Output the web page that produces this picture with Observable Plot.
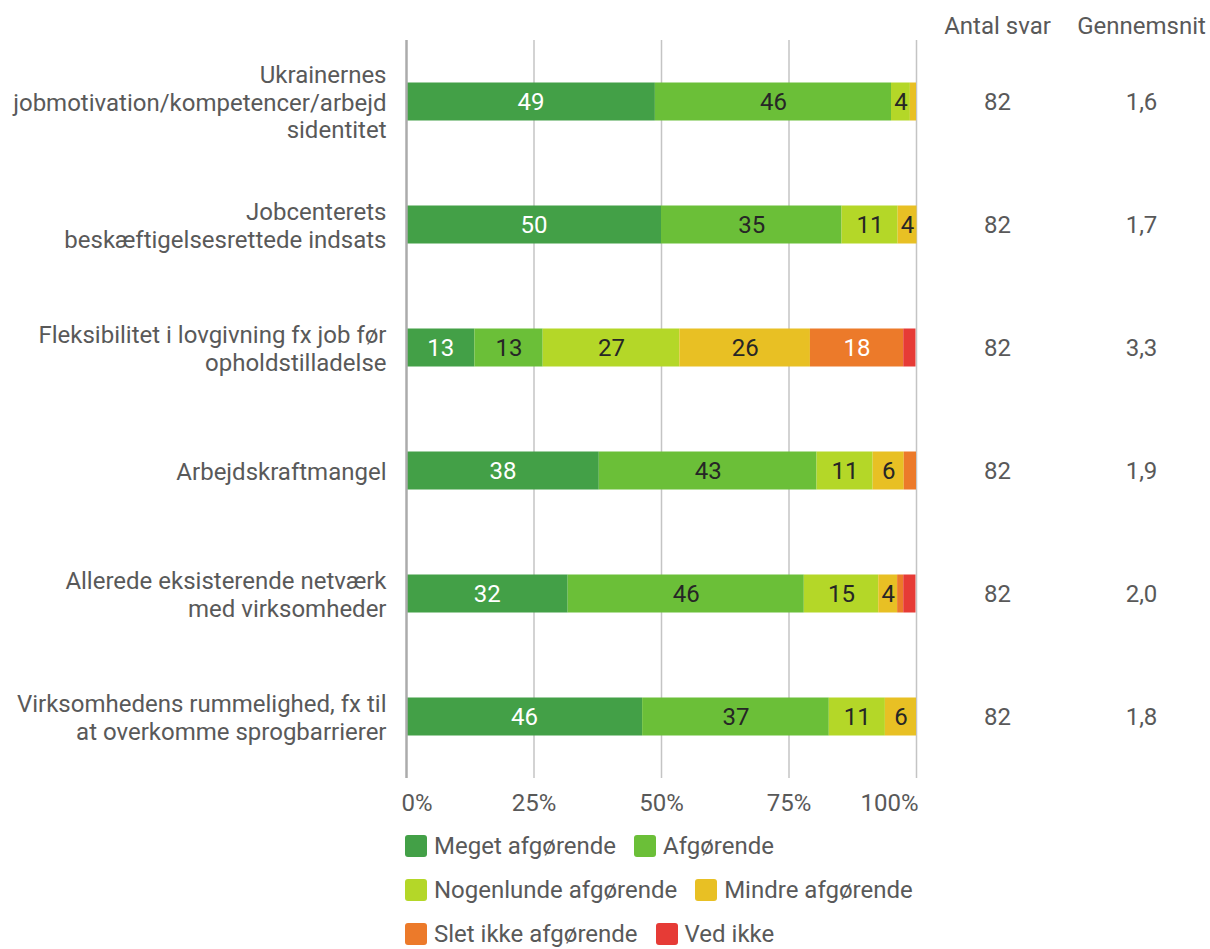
<!DOCTYPE html>
<html>
<head>
<meta charset="utf-8">
<script src="https://cdn.jsdelivr.net/npm/d3@7"></script>
<script src="https://cdn.jsdelivr.net/npm/@observablehq/plot@0.6"></script>
<style>
  body { margin: 0; background: #fff; font-family: Roboto, "Noto Sans", sans-serif; }
  #legend { margin-left: 405px; margin-top: 4px; color: #595959; font-size: 24px; }
  .lrow { display: flex; align-items: center; height: 44px; }
  .litem { display: flex; align-items: center; margin-right: 18px; white-space: nowrap; }
  .sw { width: 22px; height: 22px; border-radius: 3px; margin-right: 7px; }
</style>
</head>
<body>
<div id="chart"></div>
<div id="legend"></div>
<script>
const categories = [
  "Ukrainernes\njobmotivation/kompetencer/arbejd\nsidentitet",
  "Jobcenterets\nbeskæftigelsesrettede indsats",
  "Fleksibilitet i lovgivning fx job før\nopholdstilladelse",
  "Arbejdskraftmangel",
  "Allerede eksisterende netværk\nmed virksomheder",
  "Virksomhedens rummelighed, fx til\nat overkomme sprogbarrierer"
];
const seriesNames = ["Meget afgørende", "Afgørende", "Nogenlunde afgørende", "Mindre afgørende", "Slet ikke afgørende", "Ved ikke"];
const seriesColors = ["#43a047", "#6bbf38", "#b4d728", "#e8c024", "#ec7a2a", "#e63b36"];
const megetAfgorende = [48.8, 50.0, 13.4, 37.8, 31.7, 46.3];
const afgorende      = [46.3, 35.4, 13.4, 42.7, 46.3, 36.6];
const nogenlunde     = [3.7, 11.0, 26.8, 11.0, 14.6, 11.0];
const mindre         = [1.2, 3.7, 25.6, 6.1, 3.7, 6.1];
const sletIkke       = [0, 0, 18.3, 2.4, 1.2, 0];
const vedIkke        = [0, 0, 2.4, 0, 2.4, 0];
const antalSvar   = [82, 82, 82, 82, 82, 82];
const gennemsnit  = [1.6, 1.7, 3.3, 1.9, 2.0, 1.8];
const xTicks = [0, 25, 50, 75, 100];
const legendRows = [[0, 1], [2, 3], [4, 5]];

const seriesValues = [megetAfgorende, afgorende, nogenlunde, mindre, sletIkke, vedIkke];
const whiteLabel = new Set(["Meget afgørende", "Slet ikke afgørende", "Ved ikke"]);
const data = [];
categories.forEach((c, i) => seriesNames.forEach((s, j) => {
  data.push({cat: c, series: s, value: seriesValues[j][i]});
}));
const rows = categories.map((c, i) => ({cat: c, n: antalSvar[i], avg: gennemsnit[i]}));

const textColor = "#595959";
const fs = 24;

const plot = Plot.plot({
  width: 1210,
  height: 820,
  marginLeft: 406,
  marginRight: 294,
  marginTop: 40,
  marginBottom: 42,
  style: {fontFamily: "Roboto, 'Noto Sans', sans-serif", fontSize: fs + "px", color: textColor, background: "#fff"},
  x: {domain: [0, 100], axis: null},
  y: {domain: categories, padding: 0, axis: null},
  color: {domain: seriesNames, range: seriesColors},
  marks: [
    Plot.ruleX([25, 50, 75, 100], {stroke: "#c4c4c4", strokeWidth: 1.5}),
    Plot.barX(data, Plot.stackX({x: "value", y: "cat", fill: "series", order: seriesNames, insetTop: 42.5, insetBottom: 42.5})),
    Plot.text(data, Plot.stackX({
      x: "value", y: "cat", z: "series", order: seriesNames,
      text: d => d.value >= 3.5 ? String(Math.round(d.value)) : "",
      fill: d => whiteLabel.has(d.series) ? "#ffffff" : "#262626",
      fontSize: fs
    })),
    Plot.ruleX([0], {stroke: "#ababab", strokeWidth: 2.5}),
    Plot.text(rows, {y: "cat", text: "cat", frameAnchor: "left", dx: -20, textAnchor: "end", lineHeight: 1.15, fill: textColor, fontSize: fs}),
    Plot.text(rows, {y: "cat", text: d => String(d.n), frameAnchor: "right", textAnchor: "middle", dx: 81, fill: textColor, fontSize: fs}),
    Plot.text(rows, {y: "cat", text: d => d.avg.toFixed(1).replace(".", ","), frameAnchor: "right", textAnchor: "middle", dx: 225, fill: textColor, fontSize: fs}),
    Plot.text(["Antal svar"], {frameAnchor: "top-right", textAnchor: "middle", lineAnchor: "middle", dx: 81, dy: -14, fill: textColor, fontSize: fs}),
    Plot.text(["Gennemsnit"], {frameAnchor: "top-right", textAnchor: "middle", lineAnchor: "middle", dx: 225, dy: -14, fill: textColor, fontSize: fs}),
    Plot.text(xTicks.slice(1, 4), {x: d => d, frameAnchor: "bottom", lineAnchor: "middle", dy: 25, text: d => d + "%", fill: textColor, fontSize: fs}),
    Plot.text(xTicks.slice(0, 1), {x: d => d, frameAnchor: "bottom", lineAnchor: "middle", dy: 25, dx: -5, textAnchor: "start", text: d => d + "%", fill: textColor, fontSize: fs}),
    Plot.text(xTicks.slice(4), {x: d => d, frameAnchor: "bottom", lineAnchor: "middle", dy: 25, dx: 2, textAnchor: "end", text: d => d + "%", fill: textColor, fontSize: fs})
  ]
});
document.getElementById("chart").appendChild(plot);

const legend = document.getElementById("legend");
legendRows.forEach(r => {
  const row = document.createElement("div");
  row.className = "lrow";
  r.forEach(j => {
    const item = document.createElement("div");
    item.className = "litem";
    const sw = document.createElement("div");
    sw.className = "sw";
    sw.style.background = seriesColors[j];
    const t = document.createElement("span");
    t.textContent = seriesNames[j];
    item.appendChild(sw);
    item.appendChild(t);
    row.appendChild(item);
  });
  legend.appendChild(row);
});
</script>
</body>
</html>
